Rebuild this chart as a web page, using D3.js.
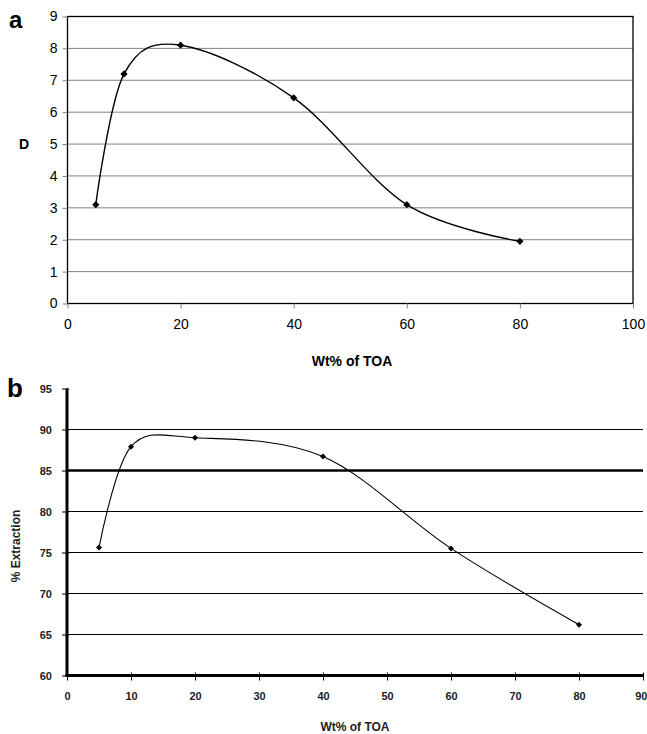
<!DOCTYPE html>
<html>
<head>
<meta charset="utf-8">
<script src="https://cdn.jsdelivr.net/npm/d3@7"></script>
<style>
  body { margin: 0; background: #fff; }
  svg { display: block; font-family: Arial, "Liberation Sans", sans-serif; }
</style>
</head>
<body>
<div id="chart"></div>
<script>
// panel a: distribution ratio D
const toaA = [5, 10, 20, 40, 60, 80];
const dValues = [3.1, 7.2, 8.1, 6.45, 3.1, 1.95];
const xTicksA = [0, 20, 40, 60, 80, 100];
const yTicksA = [0, 1, 2, 3, 4, 5, 6, 7, 8, 9];

// panel b: % extraction
const toaB = [5, 10, 20, 40, 60, 80];
const extValues = [75.6, 87.9, 89.0, 86.7, 75.5, 66.2];
const xTicksB = [0, 10, 20, 30, 40, 50, 60, 70, 80, 90];
const yTicksB = [60, 65, 70, 75, 80, 85, 90, 95];

const width = 647, height = 734;

const svg = d3.select("#chart")
  .append("svg")
  .attr("width", width)
  .attr("height", height);

// square turned 45deg = the Excel diamond marker
const marker = d3.symbol().type(d3.symbolSquare);

// ---------- panel a ----------
const xa = d3.scaleLinear().domain([0, 100]).range([67.5, 633]);
const ya = d3.scaleLinear().domain([0, 9]).range([303.5, 16.5]);

const ga = svg.append("g");

// grid lines
ga.append("g")
  .selectAll("line")
  .data(yTicksA.filter(d => d > 0 && d < 9))
  .enter()
  .append("line")
  .attr("x1", xa(0)).attr("x2", xa(100))
  .attr("y1", d => ya(d)).attr("y2", d => ya(d))
  .attr("stroke", "#808080")
  .attr("stroke-width", 1);

// frame
ga.append("rect")
  .attr("x", xa(0)).attr("y", ya(9))
  .attr("width", xa(100) - xa(0))
  .attr("height", ya(0) - ya(9))
  .attr("fill", "none")
  .attr("stroke", "#000")
  .attr("stroke-width", 1.3);

const yAxisA = d3.axisLeft(ya).tickValues(yTicksA).tickSize(5).tickPadding(5);
ga.append("g")
  .attr("transform", `translate(${xa(0)},0)`)
  .call(yAxisA)
  .call(g => g.select(".domain").remove())
  .call(g => g.selectAll("line").attr("stroke", "#808080"))
  .call(g => g.selectAll("text").attr("font-size", 14).attr("fill", "#000"));

const xAxisA = d3.axisBottom(xa).tickValues(xTicksA).tickSize(5).tickPadding(11);
ga.append("g")
  .attr("transform", `translate(0,${ya(0)})`)
  .call(xAxisA)
  .call(g => g.select(".domain").remove())
  .call(g => g.selectAll("line").attr("stroke", "#808080"))
  .call(g => g.selectAll("text").attr("font-size", 14).attr("fill", "#000"));

const ptsA = toaA.map((t, i) => [t, dValues[i]]);
const lineA = d3.line()
  .x(d => xa(d[0]))
  .y(d => ya(d[1]))
  .curve(d3.curveCardinal);

ga.append("path")
  .attr("d", lineA(ptsA))
  .attr("fill", "none")
  .attr("stroke", "#000")
  .attr("stroke-width", 1.4);

ga.selectAll(".mk")
  .data(ptsA)
  .enter()
  .append("path")
  .attr("d", marker.size(26))
  .attr("transform", d => `translate(${xa(d[0])},${ya(d[1])}) rotate(45)`)
  .attr("fill", "#000");

ga.append("text")
  .attr("x", 24).attr("y", 149)
  .attr("text-anchor", "middle")
  .attr("font-size", 14).attr("font-weight", "bold")
  .text("D");

ga.append("text")
  .attr("x", 352).attr("y", 366)
  .attr("text-anchor", "middle")
  .attr("font-size", 14).attr("font-weight", "bold")
  .text("Wt% of TOA");

ga.append("text")
  .attr("x", 9).attr("y", 28)
  .attr("font-size", 24).attr("font-weight", "bold")
  .text("a");

// ---------- panel b ----------
const xb = d3.scaleLinear().domain([0, 90]).range([67, 643]);
const yb = d3.scaleLinear().domain([60, 95]).range([675.5, 388.5]);

const gb = svg.append("g");

gb.append("g")
  .selectAll("line")
  .data(yTicksB.filter(d => d > 60 && d < 95))
  .enter()
  .append("line")
  .attr("x1", xb(0)).attr("x2", xb(90))
  .attr("y1", d => yb(d)).attr("y2", d => yb(d))
  .attr("stroke", "#000")
  .attr("stroke-width", d => d === 85 ? 2.6 : 1.1);

const yAxisB = d3.axisLeft(yb).tickValues(yTicksB).tickSize(5).tickPadding(10);
gb.append("g")
  .attr("transform", `translate(${xb(0)},0)`)
  .call(yAxisB)
  .call(g => g.select(".domain").remove())
  .call(g => g.selectAll("line").attr("stroke", "#000").attr("x2", -5).attr("x1", 2))
  .call(g => g.selectAll("text").attr("font-size", 11).attr("font-weight", "bold").attr("fill", "#222"));

const xAxisB = d3.axisBottom(xb).tickValues(xTicksB).tickSize(5).tickPadding(12);
gb.append("g")
  .attr("transform", `translate(0,${yb(60)})`)
  .call(xAxisB)
  .call(g => g.select(".domain").remove())
  .call(g => g.selectAll("line").attr("stroke", "#000").attr("y1", -3))
  .call(g => g.selectAll("text").attr("font-size", 11).attr("font-weight", "bold").attr("fill", "#222"))
  .call(g => g.selectAll("text").filter(d => d === 90).attr("text-anchor", "end").attr("dx", 4));

// thick axis lines
gb.append("line")
  .attr("x1", xb(0)).attr("x2", xb(0))
  .attr("y1", yb(95)).attr("y2", yb(60) + 1.5)
  .attr("stroke", "#000").attr("stroke-width", 3);
gb.append("line")
  .attr("x1", xb(0) - 1.5).attr("x2", xb(90))
  .attr("y1", yb(60)).attr("y2", yb(60))
  .attr("stroke", "#000").attr("stroke-width", 3);

const ptsB = toaB.map((t, i) => [t, extValues[i]]);
const lineB = d3.line()
  .x(d => xb(d[0]))
  .y(d => yb(d[1]))
  .curve(d3.curveCardinal);

gb.append("path")
  .attr("d", lineB(ptsB))
  .attr("fill", "none")
  .attr("stroke", "#000")
  .attr("stroke-width", 1.1);

gb.selectAll(".mk")
  .data(ptsB)
  .enter()
  .append("path")
  .attr("d", marker.size(18))
  .attr("transform", d => `translate(${xb(d[0])},${yb(d[1])}) rotate(45)`)
  .attr("fill", "#000");

gb.append("text")
  .attr("transform", "translate(20,546) rotate(-90)")
  .attr("text-anchor", "middle")
  .attr("font-size", 12).attr("font-weight", "bold")
  .attr("fill", "#222")
  .text("% Extraction");

gb.append("text")
  .attr("x", 355).attr("y", 731)
  .attr("text-anchor", "middle")
  .attr("font-size", 12).attr("font-weight", "bold")
  .attr("fill", "#222")
  .text("Wt% of TOA");

gb.append("text")
  .attr("x", 7).attr("y", 397)
  .attr("font-size", 26).attr("font-weight", "bold")
  .text("b");
</script>
</body>
</html>
